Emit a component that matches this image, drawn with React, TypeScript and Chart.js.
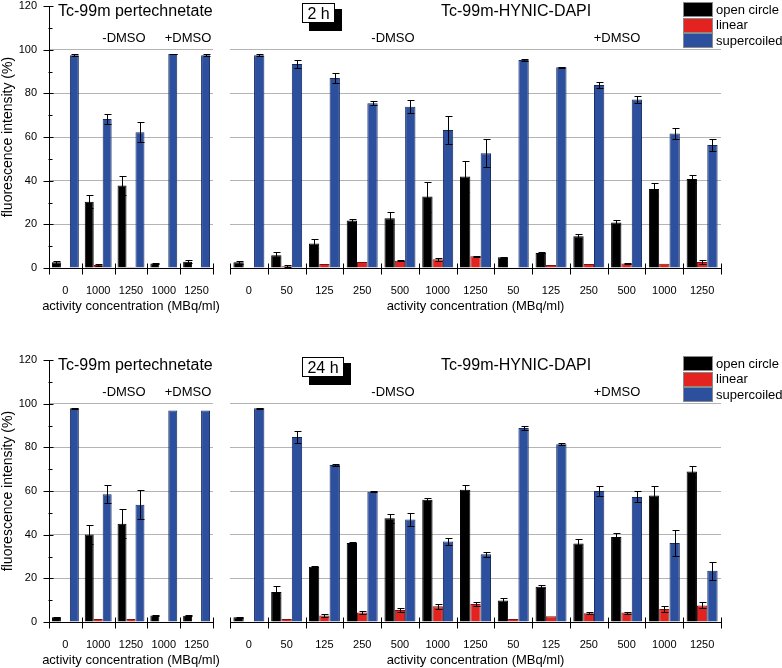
import React, { useEffect, useRef } from 'react';
import { Chart, registerables } from 'chart.js';

Chart.register(...registerables);

const FONT = "'Liberation Sans', Arial, Helvetica, sans-serif";

// ---------- data ----------
const seriesNames = ['open circle', 'linear', 'supercoiled'];
const seriesFill = ['#000000', '#e2231f', '#2c4f9e'];
const seriesBorder = ['#000000', '#7a1414', '#172a60'];

const leftCategories = ['0', '1000', '1250', '1000', '1250'];
const rightCategories = ['0', '50', '125', '250', '500', '1000', '1250', '50', '125', '250', '500', '1000', '1250'];
const yTicks = [0, 20, 40, 60, 80, 100, 120];
const xTitle = 'activity concentration (MBq/ml)';
const yTitle = 'fluorescence intensity (%)';

// 2 h, Tc-99m pertechnetate
const h2LeftOpen = [2.6, 30.4, 37.8, 2.1, 2.9];
const h2LeftOpenErr = [0.6, 3.0, 4.4, 0.2, 0.6];
const h2LeftLinear = [0, 1.4, 0.5, 0, 0];
const h2LeftLinearErr = [0, 0.4, 0, 0, 0];
const h2LeftSuper = [97.4, 68.3, 62.2, 98.0, 97.5];
const h2LeftSuperErr = [0.4, 2.2, 4.6, 0.2, 0.4];

// 2 h, Tc-99m-HYNIC-DAPI
const h2RightOpen = [2.6, 5.8, 11.2, 21.7, 22.8, 32.7, 41.9, 4.9, 6.9, 14.5, 20.8, 36.2, 40.8];
const h2RightOpenErr = [0.6, 1.4, 2.2, 0.6, 2.7, 6.9, 6.9, 0.3, 0.2, 1.0, 1.0, 2.6, 1.7];
const h2RightLinear = [0, 0.8, 1.8, 2.75, 3.35, 4.0, 5.4, 0, 1.4, 1.8, 2.1, 2.0, 2.75];
const h2RightLinearErr = [0, 0.4, 0, 0, 0.3, 0.8, 0.3, 0, 0, 0, 0.4, 0, 0.8];
const h2RightSuper = [97.4, 93.4, 87.0, 75.5, 73.9, 63.2, 52.6, 95.3, 91.9, 83.8, 77.2, 61.6, 56.3];
const h2RightSuperErr = [0.4, 1.9, 2.3, 1.0, 3.0, 6.4, 6.4, 0.4, 0.2, 1.2, 1.5, 2.5, 2.6];

// 24 h, Tc-99m pertechnetate
const h24LeftOpen = [2.2, 40.1, 45.0, 3.0, 2.9];
const h24LeftOpenErr = [0.3, 4.3, 6.6, 0.2, 0.2];
const h24LeftLinear = [0, 1.4, 1.4, 0, 0];
const h24LeftLinearErr = [0, 0, 0, 0, 0];
const h24LeftSuper = [97.9, 58.5, 53.7, 96.9, 96.9];
const h24LeftSuperErr = [0.3, 4.1, 6.6, 0, 0];

// 24 h, Tc-99m-HYNIC-DAPI
const h24RightOpen = [2.2, 13.7, 25.3, 36.2, 47.5, 56.0, 60.6, 9.9, 16.2, 36.0, 38.9, 57.9, 68.9];
const h24RightOpenErr = [0.3, 2.8, 0.3, 0.3, 2.0, 0.6, 2.0, 1.2, 0.6, 2.0, 2.0, 4.5, 2.6];
const h24RightLinear = [0, 1.4, 3.0, 4.4, 5.5, 7.2, 8.2, 1.4, 2.6, 4.0, 4.3, 6.0, 7.6];
const h24RightLinearErr = [0, 0, 0.6, 0.7, 0.8, 1.1, 1.0, 0, 0, 0.5, 0.5, 1.3, 1.4];
const h24RightSuper = [97.9, 84.7, 71.9, 59.7, 46.9, 36.9, 31.0, 88.9, 81.4, 60.0, 57.3, 36.2, 23.5];
const h24RightSuperErr = [0.3, 2.8, 0.5, 0.2, 3.0, 1.8, 1.0, 0.9, 0.4, 2.3, 2.5, 6.0, 4.1];

// ---------- plugins ----------
const errorBarPlugin = {
  id: 'errorBars',
  afterDatasetsDraw(chart: any) {
    const ctx = chart.ctx;
    const y = chart.scales.y;
    ctx.save();
    ctx.strokeStyle = '#000';
    ctx.lineWidth = 1;
    chart.data.datasets.forEach((ds: any, di: number) => {
      const meta = chart.getDatasetMeta(di);
      meta.data.forEach((bar: any, i: number) => {
        const e = ds.errors ? ds.errors[i] : 0;
        if (!e) return;
        const v = ds.data[i];
        const yTop = Math.round(y.getPixelForValue(v + e)) + 0.5;
        const yBot = Math.round(y.getPixelForValue(Math.max(0, v - e))) + 0.5;
        const x = Math.round(bar.x) + 0.5;
        ctx.beginPath();
        ctx.moveTo(x, yTop);
        ctx.lineTo(x, yBot);
        ctx.moveTo(x - 3, yTop);
        ctx.lineTo(x + 4, yTop);
        ctx.moveTo(x - 3, yBot);
        ctx.lineTo(x + 4, yBot);
        ctx.stroke();
      });
    });
    ctx.restore();
  },
};

const axisPlugin = {
  id: 'axisDecor',
  afterDraw(chart: any, _args: any, opts: any) {
    const ctx = chart.ctx;
    const x = chart.scales.x;
    const y = chart.scales.y;
    const area = chart.chartArea;
    const y0 = Math.round(y.getPixelForValue(0)) + 0.5;
    ctx.save();
    ctx.strokeStyle = '#000';
    ctx.lineWidth = 1;
    ctx.beginPath();
    ctx.moveTo(Math.round(area.left), y0);
    ctx.lineTo(Math.round(area.right) + 1, y0);
    const n = chart.data.labels.length;
    for (let i = 0; i <= n; i++) {
      const px = Math.round(x.getPixelForValue(i - 0.5)) + 0.5;
      ctx.moveTo(px, y0 - 5);
      ctx.lineTo(px, y0 + 6);
    }
    if (opts.showY) {
      const ax = Math.round(area.left) + 0.5;
      ctx.moveTo(ax, Math.round(area.top));
      ctx.lineTo(ax, y0);
      for (let v = 0; v <= 120; v += 10) {
        const py = Math.round(y.getPixelForValue(v)) + 0.5;
        if (v % 20 === 0) {
          ctx.moveTo(ax - 6, py);
          ctx.lineTo(ax + 4, py);
        } else {
          ctx.moveTo(ax - 1, py);
          ctx.lineTo(ax + 3, py);
        }
      }
    }
    ctx.stroke();
    // x-axis title (drawn without width squeezing)
    ctx.fillStyle = '#000';
    ctx.font = `13px ${FONT}`;
    ctx.textAlign = 'center';
    ctx.textBaseline = 'middle';
    ctx.fillText(xTitle, (area.left + area.right) / 2, y0 + 38);
    ctx.restore();
  },
};

// ---------- chart component ----------
type BarChartProps = {
  left: number;
  top: number;
  width: number;
  height: number;
  plotLeft: number;
  plotRight: number;
  plotTop: number;
  plotBottom: number;
  labels: string[];
  values: number[][];
  errors: number[][];
  showY: boolean;
};

function BarChart(p: BarChartProps) {
  const ref = useRef<HTMLCanvasElement | null>(null);
  useEffect(() => {
    if (!ref.current) return;
    const chart = new Chart(ref.current, {
      type: 'bar',
      data: {
        labels: p.labels,
        datasets: p.values.map((v, i) => ({
          label: seriesNames[i],
          data: v,
          errors: p.errors[i],
          backgroundColor: seriesFill[i],
          borderColor: seriesBorder[i],
          borderWidth: 1,
          barPercentage: 1,
          categoryPercentage: 0.82,
        })) as any,
      },
      options: {
        animation: false,
        responsive: false,
        maintainAspectRatio: false,
        devicePixelRatio: 1,
        layout: {
          autoPadding: false,
          padding: {
            left: p.showY ? 0 : p.plotLeft,
            top: p.plotTop,
            right: p.width - p.plotRight,
            bottom: 0,
          },
        },
        plugins: {
          legend: { display: false },
          tooltip: { enabled: false },
          title: { display: false },
          axisDecor: { showY: p.showY },
        } as any,
        scales: {
          x: {
            type: 'category',
            offset: true,
            grid: { display: false },
            border: { display: false },
            ticks: {
              font: { size: 11, family: FONT },
              color: '#000',
              padding: 8,
              maxRotation: 0,
              autoSkip: false,
            },
            title: { display: false },
            afterFit: (s: any) => {
              s.height = p.height - p.plotBottom;
              s.paddingLeft = 0;
              s.paddingRight = 0;
              s.paddingTop = 0;
              s.paddingBottom = 0;
            },
          },
          y: {
            type: 'linear',
            min: 0,
            max: 120,
            afterBuildTicks: (s: any) => {
              s.ticks = yTicks.map((v) => ({ value: v }));
            },
            ticks: {
              display: p.showY,
              font: { size: 11, family: FONT },
              color: '#000',
              padding: 12,
            },
            grid: {
              drawTicks: false,
              lineWidth: 1,
              color: (c: any) =>
                c.tick && (c.tick.value === 0 || c.tick.value === 120) ? 'rgba(0,0,0,0)' : '#b4b4b4',
            },
            border: { display: false },
            title: {
              display: p.showY,
              text: yTitle,
              font: { size: 14, family: FONT },
              color: '#000',
              padding: { top: 0, bottom: 0 },
            },
            afterFit: (s: any) => {
              s.width = p.showY ? p.plotLeft : 0;
              s.paddingLeft = 0;
              s.paddingRight = 0;
              s.paddingTop = 0;
              s.paddingBottom = 0;
            },
          },
        },
      } as any,
      plugins: [errorBarPlugin, axisPlugin],
    });
    return () => chart.destroy();
  }, []);
  return (
    <canvas
      ref={ref}
      width={p.width}
      height={p.height}
      style={{ position: 'absolute', left: p.left, top: p.top, width: p.width, height: p.height }}
    />
  );
}

// ---------- overlay helpers ----------
function Txt({ x, y, size, children, center }: { x: number; y: number; size: number; children: any; center?: boolean }) {
  return (
    <div
      style={{
        position: 'absolute',
        left: x,
        top: y - 12,
        height: 24,
        lineHeight: '24px',
        fontSize: size,
        fontFamily: FONT,
        color: '#000',
        whiteSpace: 'nowrap',
        transform: center ? 'translateX(-50%)' : undefined,
      }}
    >
      {children}
    </div>
  );
}

function TimeBox({ x, y, w, label }: { x: number; y: number; w: number; label: string }) {
  return (
    <>
      <div style={{ position: 'absolute', left: x + 7, top: y + 6, width: w, height: 22, background: '#000' }} />
      <div
        style={{
          position: 'absolute',
          left: x,
          top: y,
          width: w - 2,
          height: 18,
          border: '1px solid #000',
          background: '#fff',
          fontFamily: FONT,
          fontSize: 16,
          lineHeight: '19px',
          textAlign: 'center',
          color: '#000',
        }}
      >
        {label}
      </div>
    </>
  );
}

function Legend({ y }: { y: number }) {
  return (
    <>
      {seriesNames.map((name, i) => (
        <React.Fragment key={name}>
          <div
            style={{
              position: 'absolute',
              left: 683,
              top: y + i * 15.5,
              width: 28,
              height: 13,
              background: seriesFill[i],
              border: '1px solid #8a8a8a',
            }}
          />
          <Txt x={716} y={y + 7.5 + i * 15.5} size={13}>
            {name}
          </Txt>
        </React.Fragment>
      ))}
    </>
  );
}

function Panel({
  top,
  time,
  timeW,
  left,
  right,
}: {
  top: number;
  time: string;
  timeW: number;
  left: { v: number[][]; e: number[][] };
  right: { v: number[][]; e: number[][] };
}) {
  return (
    <>
      <BarChart
        left={0}
        top={top}
        width={222}
        height={318}
        plotLeft={49}
        plotRight={213}
        plotTop={6}
        plotBottom={268}
        labels={leftCategories}
        values={left.v}
        errors={left.e}
        showY={true}
      />
      <BarChart
        left={222}
        top={top}
        width={560}
        height={318}
        plotLeft={8}
        plotRight={499}
        plotTop={6}
        plotBottom={268}
        labels={rightCategories}
        values={right.v}
        errors={right.e}
        showY={false}
      />
      <Txt x={58} y={top + 11} size={16}>
        Tc-99m pertechnetate
      </Txt>
      <Txt x={441} y={top + 11} size={16}>
        Tc-99m-HYNIC-DAPI
      </Txt>
      <Txt x={124} y={top + 38} size={13} center>
        -DMSO
      </Txt>
      <Txt x={188} y={top + 38} size={13} center>
        +DMSO
      </Txt>
      <Txt x={393} y={top + 38} size={13} center>
        -DMSO
      </Txt>
      <Txt x={617} y={top + 38} size={13} center>
        +DMSO
      </Txt>
      <TimeBox x={302} y={top + 3} w={timeW} label={time} />
      <Legend y={top + 2} />
    </>
  );
}

export default function App() {
  return (
    <div
      style={{
        position: 'absolute',
        left: 0,
        top: 0,
        width: 782,
        height: 668,
        background: '#fff',
        overflow: 'hidden',
      }}
    >
      <Panel
        top={0}
        time="2 h"
        timeW={33}
        left={{
          v: [h2LeftOpen, h2LeftLinear, h2LeftSuper],
          e: [h2LeftOpenErr, h2LeftLinearErr, h2LeftSuperErr],
        }}
        right={{
          v: [h2RightOpen, h2RightLinear, h2RightSuper],
          e: [h2RightOpenErr, h2RightLinearErr, h2RightSuperErr],
        }}
      />
      <Panel
        top={354}
        time="24 h"
        timeW={42}
        left={{
          v: [h24LeftOpen, h24LeftLinear, h24LeftSuper],
          e: [h24LeftOpenErr, h24LeftLinearErr, h24LeftSuperErr],
        }}
        right={{
          v: [h24RightOpen, h24RightLinear, h24RightSuper],
          e: [h24RightOpenErr, h24RightLinearErr, h24RightSuperErr],
        }}
      />
    </div>
  );
}
